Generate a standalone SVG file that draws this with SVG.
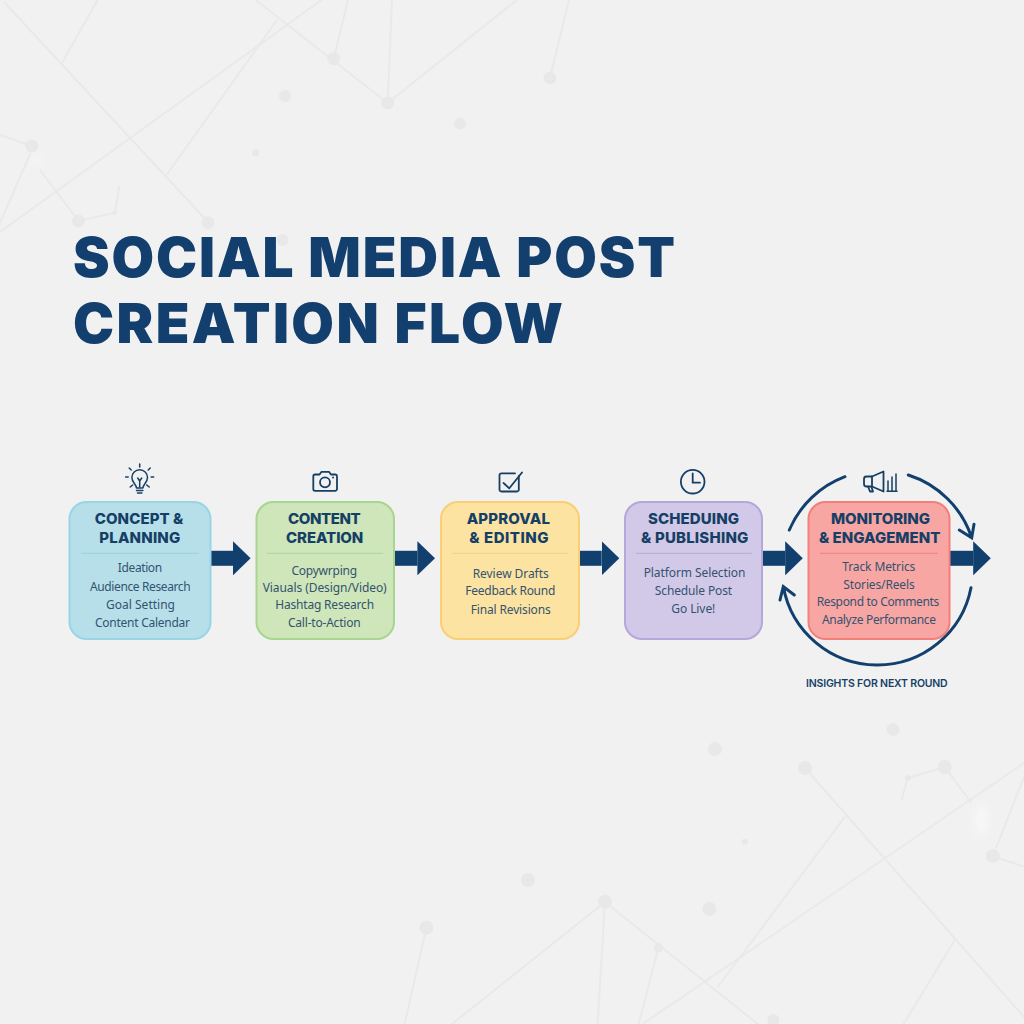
<svg xmlns="http://www.w3.org/2000/svg" width="1024" height="1024" viewBox="0 0 1024 1024">
<style>
.bgl{stroke:#e9e9e9;stroke-width:2;fill:none}
.bgd{fill:#e8e8e8}
.box{stroke-width:2}
.div{stroke-width:1;opacity:.75}
.h{font-family:Inter,"Liberation Sans",sans-serif;font-weight:800;font-size:15px;fill:#163f66;text-anchor:middle}
.b{font-family:"Noto Sans","Open Sans",sans-serif;font-size:12px;fill:#34536f;text-anchor:middle}
.t{font-family:Inter,"Liberation Sans",sans-serif;font-weight:900;font-size:55px;fill:#123f6d}
.arrow{stroke:#113f6e;stroke-width:15;fill:none;marker-end:url(#head)}
.loop{stroke:#113f6e;stroke-width:3;fill:none;stroke-linecap:round}
.ic{stroke:#163f66;stroke-width:1.800;fill:none;stroke-linecap:round;stroke-linejoin:round}
</style>
<defs>
<marker id="head" markerUnits="userSpaceOnUse" markerWidth="18" markerHeight="34" refX="0" refY="17" orient="auto"><path d="M0 0L17.600 17L0 34Z" fill="#113f6e"/></marker>
<filter id="soft" x="-100%" y="-100%" width="300%" height="300%"><feGaussianBlur stdDeviation="5"/></filter>
</defs>
<rect width="1024" height="1024" fill="#f1f1f1"/>
<g id="background">
<ellipse cx="981" cy="820" rx="6" ry="16" fill="#f8f8f8" filter="url(#soft)"/>
<ellipse cx="36" cy="160" rx="4" ry="7" fill="#f6f6f6" filter="url(#soft)"/>
<path class="bgl" d="M4 2L208 222M97.600 0L62 63M321.500 0L0 232M277 20L166.500 175M255.600 0L387.700 103M348 0L333.700 58.700M392 0L387.700 103M516.700 0L387.700 103M569 0L550 78M0 135L31.800 146M30.600 153L0 223M40 170L78.500 221L114.800 212.700L119.400 186"/>
<path class="bgl" d="M1024 763L642.800 1024M805 768L1024 1017M845 816.700L717 988M956 938L903.600 1024M944.700 767L971.400 803M1024 777L996 848M992.700 856L1024 866.700M944.700 767L907.700 778L901.600 800M605 902L452 1024M605 902L597.600 1024M605 902L757.800 1024M426.400 927.700L404.600 1024M658.400 947.700L638.700 1024"/>
<g class="bgd">
<circle cx="333.700" cy="58.700" r="6.500"/><circle cx="387.700" cy="103" r="6.500"/><circle cx="550" cy="78" r="6.500"/><circle cx="285" cy="96" r="6"/><circle cx="460" cy="123.500" r="6"/><circle cx="255.600" cy="152.700" r="3.500"/><circle cx="31.800" cy="146" r="6.500"/><circle cx="78.500" cy="221" r="6.500"/><circle cx="208" cy="222.700" r="6.500"/><circle cx="282.400" cy="240" r="6"/><circle cx="114.800" cy="212.700" r="2"/>
<circle cx="715" cy="749" r="7"/><circle cx="893" cy="729.500" r="6.500"/><circle cx="805" cy="768" r="7"/><circle cx="944.700" cy="767" r="7"/><circle cx="907.700" cy="778" r="3"/><circle cx="992.700" cy="856" r="7"/><circle cx="605" cy="901.700" r="7"/><circle cx="426.400" cy="927.700" r="7"/><circle cx="658.400" cy="947.700" r="4.500"/><circle cx="527.800" cy="880" r="7"/><circle cx="709.400" cy="909" r="7"/><circle cx="744.700" cy="841.700" r="3"/><circle cx="773.400" cy="1020" r="6"/>
</g>
</g>
<g id="title">
<text class="t" x="73" y="276.700" textLength="602" lengthAdjust="spacing">SOCIAL MEDIA POST</text>
<text class="t" x="73" y="343.300" textLength="490" lengthAdjust="spacing">CREATION FLOW</text>
</g>
<g id="connectors">
<line class="arrow" x1="210.700" y1="558.300" x2="233" y2="558.300"/>
<line class="arrow" x1="394" y1="558.300" x2="417.400" y2="558.300"/>
<line class="arrow" x1="579" y1="558.300" x2="601.700" y2="558.300"/>
<line class="arrow" x1="762" y1="558.300" x2="785.200" y2="558.300"/>
<line class="arrow" x1="949" y1="558.300" x2="973.200" y2="558.300"/>
<path class="loop" d="M789.300 530A98 98 0 0 1 845 476.700"/>
<path class="loop" d="M908.300 475A98 98 0 0 1 971.700 537.700M974 524.300L971.700 537.700L959.300 530"/>
<path class="loop" d="M971 587.700A95.500 95.500 0 0 1 783.300 586.500M780 600L783.300 586.500L794.300 595"/>
</g>
<g id="node-concept">
<rect class="box" x="69.500" y="502" width="141" height="137" rx="17" fill="#b6dfea" stroke="#9ad4e7"/>
<line class="div" x1="81" y1="553.300" x2="199" y2="553.300" stroke="#90cbe0"/>
<text class="h" x="139" y="524.300" textLength="88.700">CONCEPT &amp;</text>
<text class="h" x="139.800" y="543" textLength="81">PLANNING</text>
<text class="b" x="140" y="572.300" textLength="44.300">Ideation</text>
<text class="b" x="140.300" y="591" textLength="100.700">Audience Research</text>
<text class="b" x="140.500" y="609" textLength="69">Goal Setting</text>
<text class="b" x="142.500" y="626.700" textLength="95">Content Calendar</text>
<g class="ic" transform="translate(139.700 479)" stroke-width="1.500" style="stroke-width:1.500">
<path d="M-3.200 9C-3.500 5 -7.800 3.500 -7.800 -1.500A7.800 7.800 0 0 1 7.800 -1.500C7.800 3.500 3.500 5 3.200 9Z"/>
<path d="M-3.200 11.500H3.200M-2.200 14H2.200M-2 -1L0 2L2 -1M0 2V8"/>
<path d="M0 -12V-15M-8.500 -9L-10.500 -11M8.500 -9L10.500 -11M-11.500 -2H-14M11.500 -2H14M-7 6L-9.500 8M7 6L9.500 8"/>
</g>
</g>
<g id="node-content">
<rect class="box" x="256.500" y="502" width="137.500" height="137" rx="17" fill="#cee6ba" stroke="#a8d58f"/>
<line class="div" x1="266.700" y1="553.300" x2="383.300" y2="553.300" stroke="#a5cf8d"/>
<text class="h" x="324.300" y="524.300" textLength="72.700">CONTENT</text>
<text class="h" x="324.700" y="543" textLength="77.300">CREATION</text>
<text class="b" x="324.300" y="575" textLength="65.700">Copywrping</text>
<text class="b" x="324.700" y="592.300" textLength="124">Viauals (Design/Video)</text>
<text class="b" x="324.700" y="609.300" textLength="98.700">Hashtag Research</text>
<text class="b" x="324.300" y="627" textLength="72.700">Call-to-Action</text>
<g class="ic">
<path d="M315 474.500H319.500L321.500 471.800H329L331 474.500H335.500A1.800 1.800 0 0 1 337 476.300V489A1.800 1.800 0 0 1 335.500 490.800H315A1.800 1.800 0 0 1 313.300 489V476.300A1.800 1.800 0 0 1 315 474.500Z"/>
<circle cx="325" cy="482.300" r="5"/>
<path d="M333 477.500h.1"/>
</g>
</g>
<g id="node-approval">
<rect class="box" x="441" y="502" width="138" height="137" rx="17" fill="#fde3a2" stroke="#f9ce75"/>
<line class="div" x1="451.700" y1="553.300" x2="568" y2="553.300" stroke="#efc878"/>
<text class="h" x="508.300" y="524.300" textLength="83.300">APPROVAL</text>
<text class="h" x="509" y="543" textLength="79.300">&amp; EDITING</text>
<text class="b" x="510.700" y="577.700" textLength="76">Review Drafts</text>
<text class="b" x="510.300" y="595.300" textLength="90">Feedback Round</text>
<text class="b" x="510.700" y="613.700" textLength="80">Final Revisions</text>
<g class="ic">
<path d="M518.800 476V489.700A1.800 1.800 0 0 1 517 491.500H501.300A1.800 1.800 0 0 1 499.500 489.700V475.200A1.800 1.800 0 0 1 501.300 473.400H515"/>
<path d="M503.500 483L509.300 488.300L522 472.500"/>
</g>
</g>
<g id="node-scheduling">
<rect class="box" x="625" y="502" width="137" height="137" rx="17" fill="#d2c9e8" stroke="#b4a7d9"/>
<line class="div" x1="635.700" y1="553.300" x2="751.700" y2="553.300" stroke="#aba0cf"/>
<text class="h" x="693.500" y="524.300" textLength="91">SCHEDUING</text>
<text class="h" x="694.700" y="543" textLength="107.300">&amp; PUBLISHING</text>
<text class="b" x="694.500" y="577" textLength="101.700">Platform Selection</text>
<text class="b" x="693.500" y="595" textLength="77.300">Schedule Post</text>
<text class="b" x="693.300" y="613.300" textLength="44">Go Live!</text>
<g class="ic">
<circle cx="692.700" cy="481.700" r="11.800"/>
<path d="M692.700 473.500V482.700H700"/>
</g>
</g>
<g id="node-monitoring">
<rect class="box" x="808.500" y="502" width="141" height="137" rx="17" fill="#f8a6a4" stroke="#f37f7b"/>
<line class="div" x1="820" y1="553.300" x2="937.700" y2="553.300" stroke="#ee7370"/>
<text class="h" x="880.500" y="524.300" textLength="99">MONITORING</text>
<text class="h" x="879.700" y="543" textLength="121.300">&amp; ENGAGEMENT</text>
<text class="b" x="878.800" y="571" textLength="73">Track Metrics</text>
<text class="b" x="879" y="588.700" textLength="71.300">Stories/Reels</text>
<text class="b" x="878" y="606.300" textLength="122.700">Respond to Comments</text>
<text class="b" x="879" y="624" textLength="114">Analyze Performance</text>
<g class="ic">
<path d="M872 476.500L883.500 471.500V491.500L872 486.500H866.500A2.500 2.500 0 0 1 864 484V479A2.500 2.500 0 0 1 866.500 476.500Z"/>
<path d="M872 476.500V486.500M868 486.500L870 491.500H873L871.500 487"/>
<path d="M888 491V481M892 491V477M896 491V474M887 491.300H897" stroke-width="1.500"/>
</g>
</g>
<text id="label-insights" x="806" y="686.700" textLength="141.700" style="font-family:Inter,'Liberation Sans',sans-serif;font-weight:600;font-size:10.500px;fill:#163f66">INSIGHTS FOR NEXT ROUND</text>
</svg>
